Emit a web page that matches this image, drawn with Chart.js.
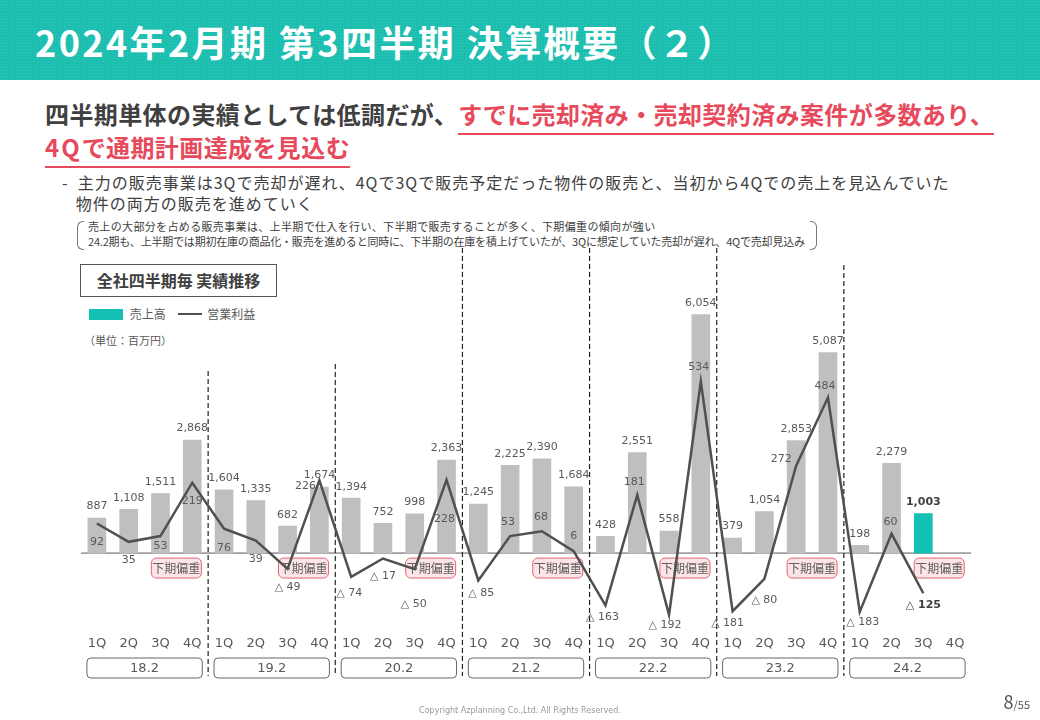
<!DOCTYPE html>
<html lang="ja">
<head>
<meta charset="utf-8">
<script src="https://cdn.jsdelivr.net/npm/chart.js@4.4.1/dist/chart.umd.min.js"></script>
<style>
  html, body { margin: 0; padding: 0; background: #fff; }
  body { width: 1040px; height: 720px; position: relative; overflow: hidden;
         font-family: "Noto Sans CJK JP", "Noto Sans", sans-serif; color: #404040; }
  .abs { position: absolute; white-space: nowrap; }
  #header { left: 0; top: 0; width: 1040px; height: 80px; background-color: #1cbeb0;
            background-image: radial-gradient(rgba(255,255,255,0.13) 0.8px, transparent 1px);
            background-size: 3px 3px; }
  #title { left: 35px; top: 15px; font-size: 36px; font-weight: bold; color: #fff; letter-spacing: 2.4px; }
  .head { font-size: 24px; font-weight: bold; line-height: 30px; letter-spacing: 0.4px; }
  .red { color: #e64a5c; border-bottom: 2px solid #e64a5c; padding-bottom: 2px; }
  #bullet { left: 62px; top: 172px; font-size: 16px; line-height: 21px; color: #404040; letter-spacing: 1px; }
  #note { left: 88px; top: 219px; font-size: 11px; line-height: 15px; color: #404040; }
  .brk { position: absolute; top: 221px; width: 6px; height: 27px; border: 1px solid #777; }
  #boxTitle { left: 80px; top: 264px; width: 195px; height: 31px; border: 1.5px solid #555;
              font-size: 16px; font-weight: bold; line-height: 31px; text-align: center; }
  #legend { left: 89px; top: 305px; font-size: 12px; color: #595959; }
  #unit { left: 84px; top: 332px; font-size: 11px; color: #595959; }
  #chart { position: absolute; left: 0; top: 240px; }
  #page { right: 10px; top: 688px; color: #555; }
  #copy { left: 0; width: 1040px; top: 706px; text-align: center; font-size: 8px; color: #999;
          font-family: "DejaVu Sans", sans-serif; }
</style>
</head>
<body>
<div id="header" class="abs"></div>
<div id="title" class="abs">2024年2月期 第3四半期 決算概要（２）</div>
<div class="abs head" style="left:45px; top:99px;">四半期単体の実績としては低調だが、<span class="red">すでに売却済み・売却契約済み案件が多数あり、</span></div>
<div class="abs head" style="left:45px; top:132px;"><span class="red"><span style="letter-spacing:2px;">4Q</span>で通期計画達成を見込む</span></div>
<div id="bullet" class="abs">-&nbsp;&nbsp;主力の販売事業は3Qで売却が遅れ、4Qで3Qで販売予定だった物件の販売と、当初から4Qでの売上を見込んでいた<br>&nbsp;&nbsp;&nbsp;物件の両方の販売を進めていく</div>
<div class="brk" style="left:77px; border-right:none; border-radius:6px 0 0 6px;"></div>
<div class="brk" style="left:810px; border-left:none; border-radius:0 6px 6px 0;"></div>
<div id="note" class="abs"><span style="letter-spacing:0.35px;">売上の大部分を占める販売事業は、上半期で仕入を行い、下半期で販売することが多く、下期偏重の傾向が強い</span><br><span style="letter-spacing:-0.2px;">24.2期も、上半期では期初在庫の商品化・販売を進めると同時に、下半期の在庫を積上げていたが、3Qに想定していた売却が遅れ、4Qで売却見込み</span></div>
<div id="boxTitle" class="abs">全社四半期毎 実績推移</div>
<div id="legend" class="abs">
  <span style="display:inline-block;width:34px;height:11px;background:#12c1b3;vertical-align:-1px;"></span>
  <span style="margin-left:4px;">売上高</span>
  <span style="display:inline-block;width:24px;height:2px;background:#505050;vertical-align:4px;margin-left:10px;"></span>
  <span style="margin-left:2px;">営業利益</span>
</div>
<div id="unit" class="abs">（単位：百万円）</div>
<canvas id="chart" width="1040" height="450"></canvas>
<div id="page" class="abs"><span style="font-size:18px;">8</span><span style="font-size:11px;">/55</span></div>
<div id="copy" class="abs">Copyright Azplanning Co.,Ltd. All Rights Reserved.</div>

<script>
// 四半期ラベルと決算期
const quarters = ['1Q', '2Q', '3Q', '4Q'];
const fiscalYears = ['18.2', '19.2', '20.2', '21.2', '22.2', '23.2', '24.2'];

// 売上高（百万円）
const sales = [
  887, 1108, 1511, 2868,
  1604, 1335, 682, 1674,
  1394, 752, 998, 2363,
  1245, 2225, 2390, 1684,
  428, 2551, 558, 6054,
  379, 1054, 2853, 5087,
  198, 2279, 1003, null
];

// 営業利益（百万円）
const opProfit = [
  92, 35, 53, 219,
  76, 39, -49, 226,
  -74, -17, -50, 228,
  -85, 53, 68, 6,
  -163, 181, -192, 534,
  -181, -80, 272, 484,
  -183, 60, -125, null
];

const labels = [];
fiscalYears.forEach(function() { quarters.forEach(function(q) { labels.push(q); }); });
const lastIndex = 26; // 24.2 3Q（最新）

// 営業利益ラベルの位置（点からのずれ）
const profitLabelOffset = [
  [0, 19], [0, 18], [0, 10], [0, 18],
  [0, 19], [0, 19], [0, 18], [-14, 6],
  [-2, 16], [0, 18], [-1, 35], [-2, 39],
  [3, 13], [-2, -14], [-1, -14], [0, -15],
  [-3, 12], [-3, -13], [-4, 10], [-2, -14],
  [-5, 12], [0, 21], [-15, -7], [-3, -11],
  [3, 10], [-1, -12], [0, 12]
];
const dividerTops = [371, 364, 248, 248, 248, 265]; // ページ座標

const numFont = '"DejaVu Sans", Verdana, sans-serif';
const canvasTop = 240;

function fmt(v) {
  if (v < 0) return '△ ' + Math.abs(v).toLocaleString('en-US');
  return v.toLocaleString('en-US');
}

function roundRect(ctx, x, y, w, h, r) {
  ctx.beginPath();
  ctx.moveTo(x + r, y);
  ctx.arcTo(x + w, y, x + w, y + h, r);
  ctx.arcTo(x + w, y + h, x, y + h, r);
  ctx.arcTo(x, y + h, x, y, r);
  ctx.arcTo(x, y, x + w, y, r);
  ctx.closePath();
}

// 背景：基準線・下期偏重・区切り線
const backdropPlugin = {
  id: 'backdrop',
  beforeDatasetsDraw(chart) {
    const ctx = chart.ctx;
    const x = chart.scales.x, y = chart.scales.y;
    const zero = y.getPixelForValue(0);
    ctx.save();
    ctx.strokeStyle = '#595959';
    ctx.lineWidth = 1;
    ctx.beginPath();
    ctx.moveTo(chart.chartArea.left, zero);
    ctx.lineTo(chart.chartArea.right, zero);
    ctx.stroke();

    // 下期偏重バッジ
    fiscalYears.forEach(function(fy, k) {
      const cx = (x.getPixelForValue(k * 4 + 2) + x.getPixelForValue(k * 4 + 3)) / 2;
      const top = zero + 5;
      roundRect(ctx, cx - 25, top, 50, 20, 5);
      ctx.fillStyle = '#fde4e7';
      ctx.fill();
      ctx.strokeStyle = '#e06673';
      ctx.lineWidth = 1;
      ctx.stroke();
      ctx.fillStyle = '#606060';
      ctx.font = '12px "Noto Sans CJK JP", sans-serif';
      ctx.textAlign = 'center';
      ctx.textBaseline = 'middle';
      ctx.fillText('下期偏重', cx, top + 10.5);
    });

    // 決算期の区切り線
    ctx.setLineDash([5, 3]);
    ctx.strokeStyle = '#222';
    ctx.lineWidth = 1.2;
    for (let k = 1; k < fiscalYears.length; k++) {
      const px = (x.getPixelForValue(k * 4 - 1) + x.getPixelForValue(k * 4)) / 2;
      ctx.beginPath();
      ctx.moveTo(px, dividerTops[k - 1] - canvasTop);
      ctx.lineTo(px, 676 - canvasTop);
      ctx.stroke();
    }
    ctx.setLineDash([]);

    // 決算期ボックス
    ctx.strokeStyle = '#666';
    ctx.lineWidth = 1;
    ctx.fillStyle = '#595959';
    ctx.font = '13px ' + numFont;
    ctx.textAlign = 'center';
    ctx.textBaseline = 'middle';
    fiscalYears.forEach(function(fy, k) {
      const x0 = x.getPixelForValue(k * 4) - 10;
      const x1 = x.getPixelForValue(k * 4 + 3) + 10;
      const by = 658 - canvasTop;
      roundRect(ctx, x0, by, x1 - x0, 20, 4);
      ctx.stroke();
      ctx.fillText(fy, (x0 + x1) / 2, by + 10.5);
    });
    ctx.restore();
  }
};

// 数値ラベル
const valueLabelPlugin = {
  id: 'valueLabels',
  afterDatasetsDraw(chart) {
    const ctx = chart.ctx;
    ctx.save();
    ctx.textAlign = 'center';
    const barMeta = chart.getDatasetMeta(0);
    barMeta.data.forEach(function(bar, i) {
      if (sales[i] == null) return;
      const bold = i === lastIndex;
      ctx.font = (bold ? 'bold ' : '') + '11px ' + numFont;
      ctx.fillStyle = bold ? '#404040' : '#595959';
      ctx.textBaseline = 'bottom';
      ctx.fillText(fmt(sales[i]), bar.x, bar.y - 6);
    });
    const lineMeta = chart.getDatasetMeta(1);
    lineMeta.data.forEach(function(pt, i) {
      if (opProfit[i] == null) return;
      const bold = i === lastIndex;
      const off = profitLabelOffset[i];
      ctx.font = (bold ? 'bold ' : '') + '11px ' + numFont;
      ctx.fillStyle = bold ? '#404040' : '#595959';
      ctx.textBaseline = 'middle';
      ctx.fillText(fmt(opProfit[i]), pt.x + off[0], pt.y + off[1]);
    });
    ctx.restore();
  }
};

const barColors = sales.map(function(v, i) { return i === lastIndex ? '#12c1b3' : '#bfbfbf'; });

new Chart(document.getElementById('chart').getContext('2d'), {
  data: {
    labels: labels,
    datasets: [
      {
        type: 'bar',
        label: '売上高',
        data: sales,
        backgroundColor: barColors,
        barThickness: 18,
        yAxisID: 'y',
        order: 2
      },
      {
        type: 'line',
        label: '営業利益',
        data: opProfit,
        borderColor: '#505050',
        borderWidth: 2.5,
        pointRadius: 0,
        tension: 0,
        spanGaps: false,
        yAxisID: 'y1',
        order: 1
      }
    ]
  },
  options: {
    responsive: false,
    animation: false,
    layout: { padding: { left: 81, right: 69, top: 56, bottom: 37 } },
    plugins: { legend: { display: false }, tooltip: { enabled: false } },
    scales: {
      x: {
        grid: { display: false, drawTicks: false },
        border: { display: false },
        ticks: { color: '#595959', font: { family: numFont, size: 13 }, padding: 2, maxRotation: 0, autoSkip: false }
      },
      y: { display: false, min: -2039, max: 6525 },
      y1: { display: false, min: -250, max: 800 }
    }
  },
  plugins: [backdropPlugin, valueLabelPlugin]
});
</script>
</body>
</html>
